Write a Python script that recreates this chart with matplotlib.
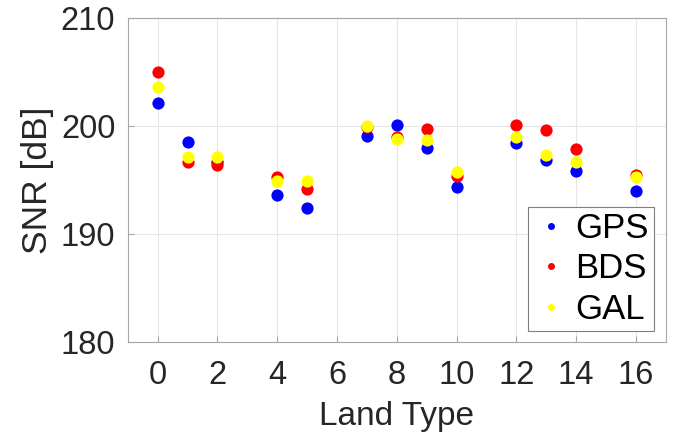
import numpy as np
import matplotlib.pyplot as plt

plt.rcParams['font.family'] = ['Liberation Sans', 'DejaVu Sans']

# land type index and mean SNR per constellation
land = [0, 1, 2, 4, 5, 7, 8, 9, 10, 12, 13, 14, 16]
snr_gps = [202.1, 198.5, 196.7, 193.6, 192.4, 199.1, 200.1, 198.0, 194.4, 198.4, 196.9, 195.8, 194.0]
snr_bds = [205.0, 196.7, 196.4, 195.3, 194.2, 199.9, 199.0, 199.7, 195.4, 200.1, 199.6, 197.9, 195.5]
snr_gal = [203.6, 197.1, 197.1, 194.9, 194.9, 200.0, 198.8, 198.7, 195.7, 199.0, 197.3, 196.7, 195.3]

fig = plt.figure(figsize=(6.76, 4.41), dpi=100)
ax = fig.add_axes([0.189, 0.225, 0.796, 0.7335])

ms = 8.8
ax.plot(land, snr_gps, 'o', color=(0, 0, 1), ms=ms, mec='none', label='GPS')
ax.plot(land, snr_bds, 'o', color=(1, 0, 0), ms=ms, mec='none', label='BDS')
ax.plot(land, snr_gal, 'o', color=(1, 1, 0), ms=ms, mec='none', label='GAL')

ax.set_xlim(-1, 17)
ax.set_ylim(180, 210)
ax.set_xticks(np.arange(0, 17, 2))
ax.set_yticks([180, 190, 200, 210])
ax.grid(True, color='#e6e6e6', lw=0.8)
ax.set_axisbelow(True)
for s in ax.spines.values():
    s.set_color('#a6a6a6')
    s.set_linewidth(0.8)
ax.tick_params(direction='in', length=4, width=0.8, color='#a6a6a6',
               labelsize=23.5, labelcolor='#262626', top=False, right=False)
ax.tick_params(axis='x', pad=13)
ax.tick_params(axis='y', pad=9)

ax.set_xlabel('Land Type', fontsize=24, color='#262626', labelpad=7)
ax.set_ylabel('SNR [dB]', fontsize=25.5, color='#262626', labelpad=5)

leg = ax.legend(loc='lower right', bbox_to_anchor=(0.978, 0.033), fontsize=25,
                markerscale=0.57, handlelength=1.05, handletextpad=0.17,
                borderpad=0.15, labelspacing=0.215, fancybox=False, framealpha=1,
                borderaxespad=0)
leg.get_frame().set_edgecolor('#7f7f7f')
leg.get_frame().set_linewidth(0.8)

fig.savefig('out.png', dpi=100)
